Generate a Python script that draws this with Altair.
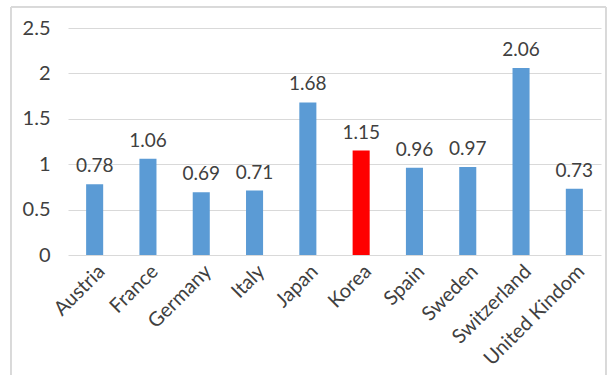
import altair as alt
import pandas as pd

countries = ["Austria", "France", "Germany", "Italy", "Japan", "Korea", "Spain", "Sweden", "Switzerland", "United Kindom"]
values = [0.78, 1.06, 0.69, 0.71, 1.68, 1.15, 0.96, 0.97, 2.06, 0.73]
colors = ["#5B9BD5"] * 5 + ["#FF0000"] + ["#5B9BD5"] * 4
y_ticks = [0, 0.5, 1, 1.5, 2, 2.5]

df = pd.DataFrame({"country": countries, "value": values, "color": colors})

FONT = "Lato"

x = alt.X("country:N", sort=countries, title=None,
          scale=alt.Scale(paddingInner=0.68, paddingOuter=0.34),
          axis=alt.Axis(labelAngle=-45, labelAlign="right", labelBaseline="top",
                        labelFontSize=20, labelColor="#404040", labelFont=FONT,
                        domain=False, ticks=False, labelPadding=6))
y = alt.Y("value:Q", title=None,
          scale=alt.Scale(domain=[0, 2.5], nice=False),
          axis=alt.Axis(values=y_ticks, format="~g", labelFontSize=20, labelColor="#404040",
                        labelFont=FONT, domain=False, ticks=False, labelPadding=18,
                        gridColor="#d9d9d9"))

bars = alt.Chart(df).mark_bar().encode(x=x, y=y, color=alt.Color("color:N", scale=None))
labels = alt.Chart(df).mark_text(baseline="alphabetic", dy=-12, fontSize=19, color="#404040", font=FONT).encode(
    x=alt.X("country:N", sort=countries), y="value:Q", text=alt.Text("value:Q", format=".2f"))

frame = alt.Chart(df).mark_rect(fill=None, stroke="#d9d9d9", strokeWidth=1).encode(
    x=alt.value(-57), x2=alt.value(538), y=alt.value(-21), y2=alt.value(360))

chart = alt.layer(frame, bars, labels).properties(
    width=533, height=227,
    autosize=alt.AutoSizeParams(type="none"),
    padding={"left": 68, "top": 28, "right": 7, "bottom": 120},
    background="white"
).configure_view(stroke=None)

chart.save("out.html", embed_options={"renderer": "svg", "actions": False})
